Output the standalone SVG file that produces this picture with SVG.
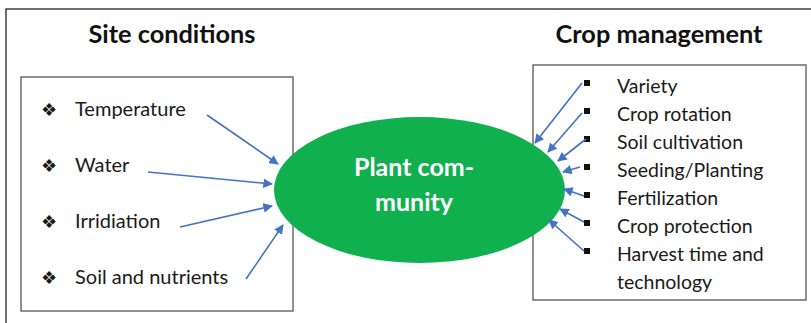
<svg xmlns="http://www.w3.org/2000/svg" width="811" height="323" viewBox="0 0 811 323">
<style>
  .frame { fill: #fff; stroke: #222; stroke-width: 1.3; }
  .box { fill: #fff; stroke: #555; stroke-width: 1.3; }
  .title { font-family: Lato, "Open Sans", sans-serif; font-weight: bold; font-size: 25.3px; fill: #111; text-anchor: middle; }
  .item { font-family: Lato, "Open Sans", sans-serif; font-size: 20px; fill: #1a1a1a; }
  .itemr { font-family: Lato, "Open Sans", sans-serif; font-size: 19.5px; fill: #1a1a1a; }
  .bul { font-family: "DejaVu Sans", sans-serif; font-size: 18px; fill: #1a1a1a; }
  .center { font-family: Lato, "Open Sans", sans-serif; font-weight: bold; font-size: 25px; fill: #fff; text-anchor: middle; }
  .conn line { stroke: #4472C4; stroke-width: 1.6; marker-end: url(#ah); }
</style>
<defs>
  <marker id="ah" viewBox="0 0 10 10" refX="9" refY="5" markerWidth="6" markerHeight="6" markerUnits="strokeWidth" orient="auto">
    <path d="M0,0 L10,5 L0,10 z" fill="#4472C4"/>
  </marker>
</defs>
<rect width="811" height="323" fill="#fff"/>
<rect class="frame" x="6" y="9" width="830" height="340"/>

<g id="site-conditions">
  <text class="title" x="172" y="43">Site conditions</text>
  <rect class="box" x="21" y="77" width="272" height="234"/>
  <text class="bul" x="41" y="116">❖</text><text class="item" x="75" y="116">Temperature</text>
  <text class="bul" x="41" y="172">❖</text><text class="item" x="75" y="172">Water</text>
  <text class="bul" x="41" y="228">❖</text><text class="item" x="75" y="228">Irridiation</text>
  <text class="bul" x="41" y="284">❖</text><text class="item" x="75" y="284">Soil and nutrients</text>
</g>

<g id="crop-management">
  <text class="title" x="659" y="43">Crop management</text>
  <rect class="box" x="533" y="65" width="273" height="235"/>
  <g fill="#111">
    <rect x="584" y="80" width="6" height="6"/>
    <rect x="584" y="108" width="6" height="6"/>
    <rect x="584" y="136" width="6" height="6"/>
    <rect x="584" y="164" width="6" height="6"/>
    <rect x="584" y="192" width="6" height="6"/>
    <rect x="584" y="220" width="6" height="6"/>
    <rect x="584" y="248" width="6" height="6"/>
  </g>
  <text class="itemr" x="617" y="93">Variety</text>
  <text class="itemr" x="617" y="121">Crop rotation</text>
  <text class="itemr" x="617" y="149">Soil cultivation</text>
  <text class="itemr" x="617" y="177">Seeding/Planting</text>
  <text class="itemr" x="617" y="205">Fertilization</text>
  <text class="itemr" x="617" y="233">Crop protection</text>
  <text class="itemr" x="617" y="261">Harvest time and</text>
  <text class="itemr" x="617" y="289">technology</text>
</g>

<g id="plant-community">
  <ellipse cx="419.5" cy="190" rx="145.5" ry="73" fill="#10B04F"/>
  <text class="center" x="414" y="176">Plant com-</text>
  <text class="center" x="414" y="211">munity</text>
</g>

<g class="conn" id="connectors">
  <line x1="207" y1="115" x2="278" y2="164"/>
  <line x1="148" y1="172" x2="272" y2="184"/>
  <line x1="180" y1="227" x2="272" y2="206"/>
  <line x1="246" y1="279" x2="283" y2="225"/>
  <line x1="582" y1="83" x2="535" y2="143"/>
  <line x1="582" y1="113" x2="548" y2="152"/>
  <line x1="586" y1="139" x2="558" y2="161"/>
  <line x1="580" y1="167" x2="563" y2="172"/>
  <line x1="584" y1="196" x2="564" y2="189"/>
  <line x1="584" y1="222" x2="560" y2="209"/>
  <line x1="584" y1="251" x2="549" y2="220"/>
</g>
</svg>
